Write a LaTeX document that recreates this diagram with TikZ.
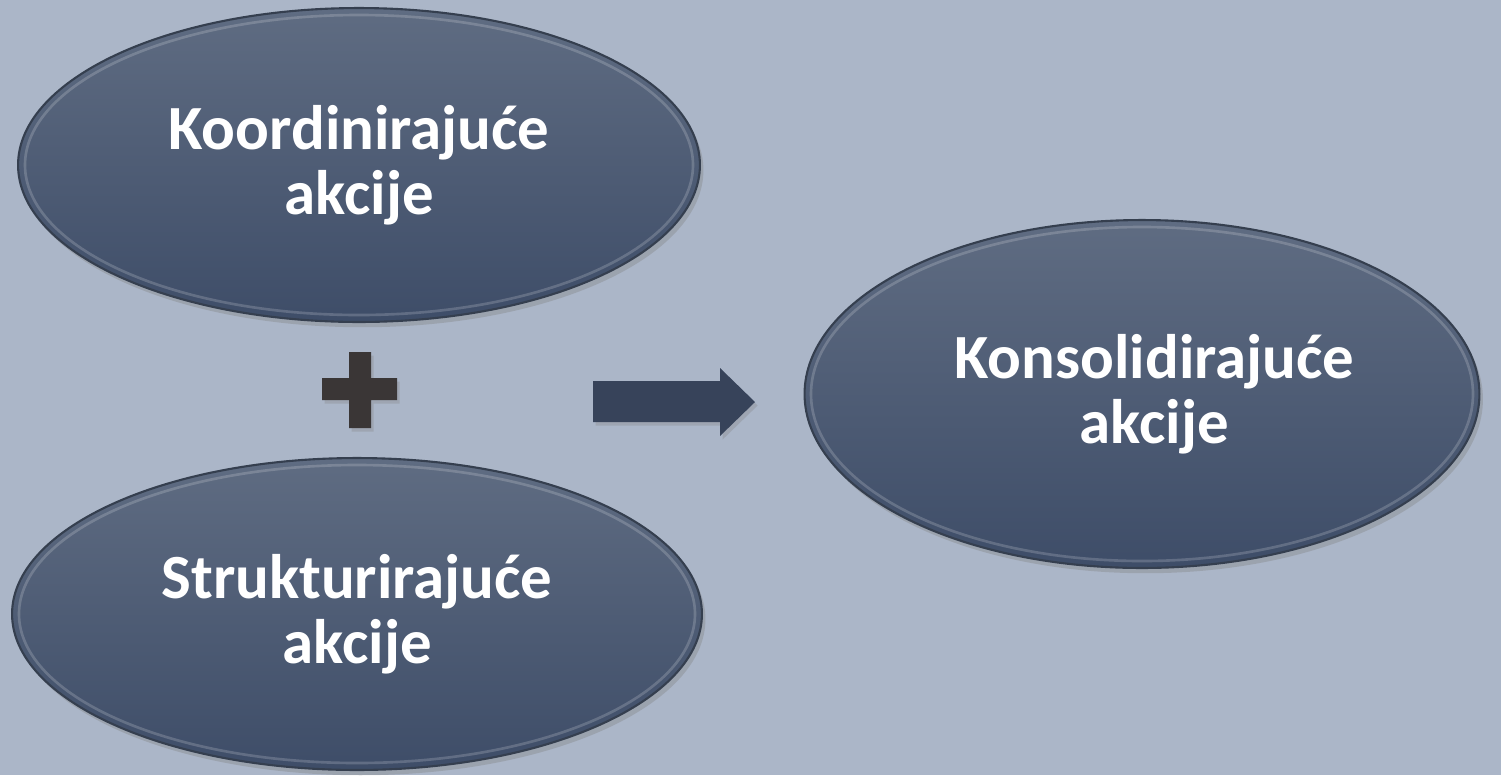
\documentclass[tikz,border=0pt]{standalone}
\usepackage{fontspec}
\setmainfont{Carlito}
\usetikzlibrary{shapes.geometric,shadows}
\definecolor{bgblue}{HTML}{ABB6C8}
\definecolor{ovaltop}{HTML}{5F6C82}
\definecolor{ovalbot}{HTML}{3E4D68}
\definecolor{ovalrim}{HTML}{353F4F}
\definecolor{plusgray}{HTML}{3A3636}
\definecolor{arrowblue}{HTML}{37435A}
\tikzset{
  oval/.style={ellipse, top color=ovaltop, bottom color=ovalbot, draw=ovalrim, line width=1.2pt,
    text=white, font=\bfseries\fontsize{35.8}{37}\selectfont, align=center, inner sep=0pt,
    drop shadow={opacity=0.35, shadow xshift=2pt, shadow yshift=-3pt}},
  rim/.style={white, opacity=0.18, line width=1.5pt},
  sign/.style={drop shadow={opacity=0.3, shadow xshift=1.5pt, shadow yshift=-2pt}}
}
\begin{document}
\begin{tikzpicture}[x=0.02cm, y=-0.02cm]
	  \fill[bgblue] (0,0) rectangle (1501,775);
	  \node[oval, minimum width=13.64cm, minimum height=6.28cm] (koord) at (359,165) {Koordinirajuće\\akcije};
	  \node[oval, minimum width=13.8cm, minimum height=6.24cm] (strukt) at (357,614) {Strukturirajuće\\akcije};
	  \node[oval, minimum width=13.5cm, minimum height=6.96cm] (konsol) at (1142,394) {\hspace*{14pt}Konsolidirajuće\\\hspace*{14pt}akcije};
	  \draw[rim] (koord.center) ellipse [x radius=334, y radius=150];
	  \draw[rim] (strukt.center) ellipse [x radius=338, y radius=149];
	  \draw[rim] (konsol.center) ellipse [x radius=331, y radius=167];
	  % plus
	  \fill[plusgray, sign] (349,352)--(371,352)--(371,378)--(397,378)--(397,400)--(371,400)--(371,428)--(349,428)--(349,400)--(322,400)--(322,378)--(349,378)--cycle;
	  % arrow
	  \fill[arrowblue, sign] (593,381)--(720,381)--(720,368)--(755,402)--(720,436)--(720,422)--(593,422)--cycle;
	\end{tikzpicture}
\end{document}
